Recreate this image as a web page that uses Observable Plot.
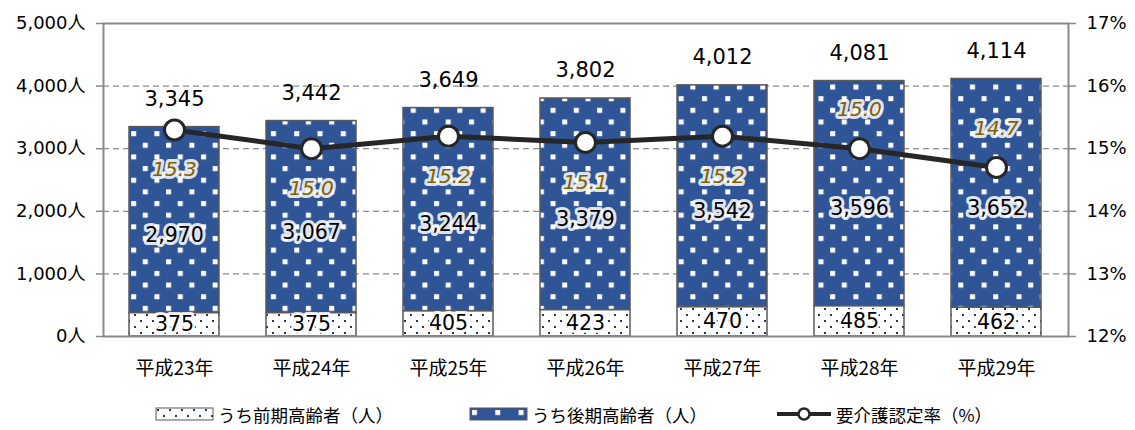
<!DOCTYPE html>
<html><head><meta charset="utf-8">
<script src="https://cdn.jsdelivr.net/npm/d3@7"></script>
<script src="https://cdn.jsdelivr.net/npm/@observablehq/plot@0.6"></script>
<style>
body{margin:0;background:#fff;font-family:"DejaVu Sans","Noto Sans CJK JP",sans-serif;}
#wrap{position:relative;width:1135px;height:430px;}
#legend{position:absolute;left:0;top:400px;width:1135px;height:30px;font-family:"Noto Sans CJK JP",sans-serif;font-size:17.5px;color:#000;}
.li{position:absolute;top:0;display:flex;align-items:center;height:28px;}
.li svg{margin-right:3px;}
</style></head><body>
<svg width="0" height="0" style="position:absolute">
<defs>
<pattern id="laterPat" patternUnits="userSpaceOnUse" width="23.3" height="23.3">
<rect width="23.3" height="23.3" fill="#2F5597"/>
<rect x="3" y="3" width="5" height="5" fill="#fff"/>
<rect x="14.65" y="14.65" width="5" height="5" fill="#fff"/>
</pattern>
<pattern id="earlyPat" patternUnits="userSpaceOnUse" width="12" height="12">
<rect width="12" height="12" fill="#fff"/>
<rect x="2" y="2" width="2" height="2" fill="#1F3864"/>
<rect x="8" y="8" width="2" height="2" fill="#1F3864"/>
</pattern>
</defs></svg>
<div id="wrap">
<div id="chart"></div>
<div id="legend">
<div class="li" style="left:155px"><svg width="60" height="14"><rect x="1" y="1" width="57" height="12" fill="url(#earlyPat)" stroke="#595959" stroke-width="1"/></svg>うち前期高齢者（人）</div>
<div class="li" style="left:469px"><svg width="60" height="14"><rect x="1" y="1" width="57" height="12" fill="url(#laterPat)" stroke="#595959" stroke-width="1"/></svg>うち後期高齢者（人）</div>
<div class="li" style="left:777px"><svg width="56" height="16"><line x1="0" y1="8" x2="54" y2="8" stroke="#262626" stroke-width="4"/><circle cx="27" cy="8" r="5.5" fill="#fff" stroke="#262626" stroke-width="2.5"/></svg>要介護認定率（%）</div>
</div>
</div>
<script>
const years = ["平成23年","平成24年","平成25年","平成26年","平成27年","平成28年","平成29年"];
const earlyElderly = [375, 375, 405, 423, 470, 485, 462];
const laterElderly = [2970, 3067, 3244, 3379, 3542, 3596, 3652];
const totals = [3345, 3442, 3649, 3802, 4012, 4081, 4114];
const rates = [15.3, 15.0, 15.2, 15.1, 15.2, 15.0, 14.7];
const leftTicks = [0, 1000, 2000, 3000, 4000, 5000];
const rightTicks = [12, 13, 14, 15, 16, 17];

const table = years.map((year, i) => ({
  year, i, early: earlyElderly[i], later: laterElderly[i], total: totals[i], rate: rates[i]
}));
// map the percentage axis (12%–17%) onto the count axis (0–5,000)
const rateToY = r => (r - 12) * 1000;

const halo = {stroke: "white", strokeWidth: 6, strokeOpacity: 0.85, paintOrder: "stroke", strokeLinejoin: "round"};

const chart = Plot.plot({
  width: 1135,
  height: 385,
  marginTop: 23,
  marginBottom: 49,
  marginLeft: 103,
  marginRight: 67,
  style: {fontFamily: "'DejaVu Sans','Noto Sans CJK JP',sans-serif", background: "#fff"},
  x: {domain: years, paddingInner: 0.34, paddingOuter: 0.17},
  y: {domain: [0, 5000]},
  marks: [
    Plot.gridY(leftTicks.filter(t => t > 0 && t < 5000), {stroke: "#8c8c8c", strokeOpacity: 1, strokeDasharray: "6,4", strokeWidth: 1.2}),
    Plot.barY(table, {x: "year", y1: 0, y2: "early", fill: "url(#earlyPat)", stroke: "#595959", strokeWidth: 1.5}),
    Plot.barY(table, {x: "year", y1: "early", y2: d => d.early + d.later, fill: "url(#laterPat)", stroke: "#595959", strokeWidth: 1.5}),
    Plot.frame({stroke: "#898989", strokeWidth: 2}),
    Plot.axisY(leftTicks, {anchor: "left", tickSize: 7, tickPadding: 11, stroke: "#898989", strokeWidth: 1.5,
      tickFormat: d => d3.format(",")(d) + "人", fontSize: 18, fill: "#000", label: null}),
    Plot.axisY(rightTicks.map(rateToY), {anchor: "right", tickSize: 7, tickPadding: 11, stroke: "#898989", strokeWidth: 1.5,
      tickFormat: d => (12 + d / 1000) + "%", fontSize: 18, fill: "#000", label: null}),
    Plot.axisX({anchor: "bottom", tickSize: 0, tickPadding: 25, fontSize: 19, fill: "#000", label: null,
      fontFamily: "'Noto Sans CJK JP',sans-serif"}),
    Plot.text(table, {x: "year", y: d => d.early / 2, text: d => d3.format(",")(d.early), fontSize: 20.5, fill: "#000", ...halo}),
    Plot.text(table, {x: "year", y: d => d.early + d.later / 2, dy: 15, text: d => d3.format(",")(d.later), fontSize: 20.5, fill: "#000", ...halo}),
    Plot.text(table, {x: "year", y: "total", dy: -28, text: d => d3.format(",")(d.total), fontSize: 21, fill: "#000"}),
    Plot.line(table, {x: "year", y: d => rateToY(d.rate), stroke: "#262626", strokeWidth: 5}),
    Plot.dot(table, {x: "year", y: d => rateToY(d.rate), r: 10, fill: "#fff", stroke: "#262626", strokeWidth: 3}),
    Plot.text(table.filter(d => d.i < 5), {x: "year", y: d => rateToY(d.rate), dy: 40, text: d => d.rate.toFixed(1),
      fontSize: 20, fontStyle: "italic", fill: "#7F6000", ...halo}),
    Plot.text(table.filter(d => d.i >= 5), {x: "year", y: d => rateToY(d.rate), dy: -39, text: d => d.rate.toFixed(1),
      fontSize: 20, fontStyle: "italic", fill: "#7F6000", ...halo})
  ]
});
document.getElementById("chart").appendChild(chart);
</script>
</body></html>
